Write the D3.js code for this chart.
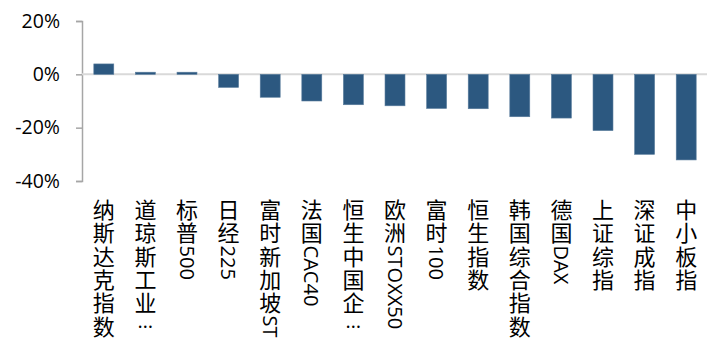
<!DOCTYPE html>
<html>
<head>
<meta charset="utf-8">
<script src="https://cdn.jsdelivr.net/npm/d3@7"></script>
<style>
  body { margin: 0; background: #fff; }
  svg { display: block; }
</style>
</head>
<body>
<script>
const width = 707;
const height = 341;

const categories = ["纳斯达克指数", "道琼斯工业…", "标普500", "日经225", "富时新加坡ST", "法国CAC40",
  "恒生中国企…", "欧洲STOXX50", "富时100", "恒生指数", "韩国综合指数", "德国DAX", "上证综指", "深证成指", "中小板指"];
const values = [3.9, 0.8, 0.8, -4.9, -8.6, -10.0, -11.4, -11.8, -12.8, -12.9, -15.9, -16.4, -21.1, -30.0, -32.1];
const yTicks = [20, 0, -20, -40];

const margin = {top: 21, left: 82, right: 0};
const fontCJK = "'Noto Sans CJK SC', 'Noto Sans', sans-serif";
const fontLatin = "'Open Sans', 'Noto Sans', sans-serif";

const svg = d3.select("body")
  .append("svg")
  .attr("width", width)
  .attr("height", height);

const x = d3.scaleBand()
  .domain(categories)
  .range([margin.left + 1, width])
  .paddingInner(0.52)
  .paddingOuter(0.26);

const y = d3.scaleLinear()
  .domain([-40, 20])
  .range([181, margin.top]);

// y axis
const yAxis = d3.axisLeft(y)
  .tickValues(yTicks)
  .tickSize(6)
  .tickPadding(16)
  .tickFormat(d => d + "%");

const ga = svg.append("g")
  .attr("transform", `translate(${margin.left},0)`)
  .call(yAxis);
ga.select(".domain").attr("stroke", "#a6a6a6").attr("stroke-width", 1.5);
ga.selectAll(".tick line").attr("stroke", "#a6a6a6").attr("stroke-width", 1.5);
ga.selectAll(".tick text")
  .attr("fill", "#000")
  .style("font-family", fontLatin)
  .style("font-size", "19.5px");

// zero line
svg.append("line")
  .attr("x1", margin.left)
  .attr("x2", width)
  .attr("y1", y(0))
  .attr("y2", y(0))
  .attr("stroke", "#d9d9d9")
  .attr("stroke-width", 2);

// bars
svg.append("g")
  .selectAll("rect")
  .data(values)
  .enter()
  .append("rect")
  .attr("x", (d, i) => x(categories[i]))
  .attr("width", x.bandwidth())
  .attr("y", d => y(Math.max(0, d)))
  .attr("height", d => Math.abs(y(d) - y(0)))
  .attr("fill", "#2c5880")
  .attr("stroke", "#5a7c9c")
  .attr("stroke-width", 0.6);

// vertical category labels: CJK upright, latin runs rotated
const step = 23.3;
const labelTop = 198;
const lg = svg.append("g")
  .attr("fill", "#000");

categories.forEach(function (label) {
  const cx = x(label) + x.bandwidth() / 2;
  let yy = labelTop;
  const parts = label.match(/[A-Za-z0-9]+|./g);
  parts.forEach(function (p) {
    if (/^[A-Za-z0-9]+$/.test(p)) {
      const t = lg.append("text")
        .attr("transform", `translate(${cx},${yy + 1}) rotate(90)`)
        .attr("dominant-baseline", "central")
        .style("font-family", fontLatin)
        .style("font-size", "20px")
        .text(p);
      yy += t.node().getComputedTextLength() + 1;
    } else if (p === "…") {
      lg.append("text")
        .attr("x", cx)
        .attr("y", yy + step * 0.6)
        .attr("text-anchor", "middle")
        .style("font-family", fontLatin)
        .style("font-size", "20px")
        .text(p);
      yy += step;
    } else {
      lg.append("text")
        .attr("x", cx)
        .attr("y", yy + step * 0.86)
        .attr("text-anchor", "middle")
        .style("font-family", fontCJK)
        .style("font-size", "22px")
        .text(p);
      yy += step;
    }
  });
});
</script>
</body>
</html>
